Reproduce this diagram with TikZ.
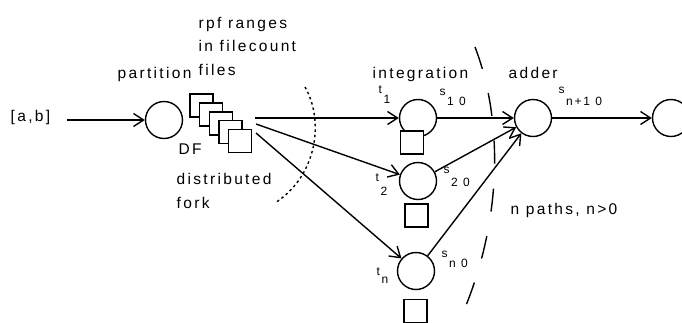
\documentclass[tikz,border=0pt]{standalone}
\usepackage{fontspec}
\setmainfont{Liberation Sans}[LetterSpace=15]
\usetikzlibrary{arrows.meta}
\newcommand{\lbl}[3][10pt]{\raisebox{#1}{#2}\hspace{1.5pt}#3}

\begin{document}
\begin{tikzpicture}[x=1pt,y=-1pt,line width=1.4pt,
    >={Straight Barb[length=10pt,width=13pt]},
    place/.style={draw,circle,minimum size=37pt,inner sep=0pt},
    tok/.style={draw,fill=white,minimum size=23pt,inner sep=0pt},
    txt/.style={anchor=base west,inner sep=0pt,align=left,font=\fontsize{15.5}{23.5}\selectfont},
    sml/.style={anchor=base west,inner sep=0pt,font=\fontsize{12}{14}\selectfont}]
    \clip (0,0) rectangle (682,322);
    % places
    \node[place] (part) at (164,120) {};
    \node[place] (int1) at (418,118) {};
    \node[place] (int2) at (418,181) {};
    \node[place] (intn) at (416,271) {};
    \node[place] (add) at (533,118) {};
    \node[place] (out) at (671,118) {};
    \node[tok] (sq1) at (412,142.5) {};
    \node[tok] (sq2) at (416.5,215.5) {};
    \node[tok] (sqn) at (415.5,311) {};
    \foreach \i in {0,...,4}
    {
      \node[tok] (df\i) at ({201.5+9.6*\i},{105.5+8.9*\i}) {};
    }
    % texts
    \node[txt] (ab) at (10,121) {[a,b]};
    \node[txt] (partl) at (117,78) {partition};
    \node[txt] (rpf) at (198,75) {rpf ranges\\in filecount\\files};
    \node[txt] (dfl) at (178,154) {DF};
    \node[txt] (fork) at (176,208) {distributed\\fork};
    \node[txt] (intl) at (372,78) {integration};
    \node[txt] (addl) at (508,78) {adder};
    \node[txt] (paths) at (510,214) {n paths, n>0};
    \node[sml] (t1) at (378,103) {\lbl{t}{1}};
    \node[sml] (s10) at (439,105) {\lbl{s}{1 0}};
    \node[sml] (t2) at (375,195) {\lbl[14pt]{t}{2}};
    \node[sml] (s20) at (443,186) {\lbl[13pt]{s}{2 0}};
    \node[sml] (tn) at (376,283) {\lbl[8pt]{t}{n}};
    \node[sml] (sn0) at (441,267) {\lbl{s}{n 0}};
    \node[sml] (sn10) at (558,105) {\lbl[12pt]{s}{n+1 0}};
    % arcs
    \coordinate (src) at (67,120);
    \coordinate (f1) at (255,118);
    \coordinate (f2) at (256,124);
    \coordinate (f3) at (256,133);
    \draw[->] (src) -- (part);
    \draw[->] (f1) -- (int1);
    \draw[->] (f2) -- (int2);
    \draw[->] (f3) -- (intn);
    \draw[->] (int1) -- (add);
    \draw[->] (int2) -- (add);
    \draw[->] (intn) -- (add);
    \draw[->] (add) -- (out);
    % cuts
    \draw[dash pattern=on 2.5pt off 3pt] (305,87) .. controls (324,120) and (318,175) .. (275,203);
    \draw[dash pattern=on 23pt off 25pt] (475,47) .. controls (503,120) and (503,220) .. (462,315);
\end{tikzpicture}
\end{document}
